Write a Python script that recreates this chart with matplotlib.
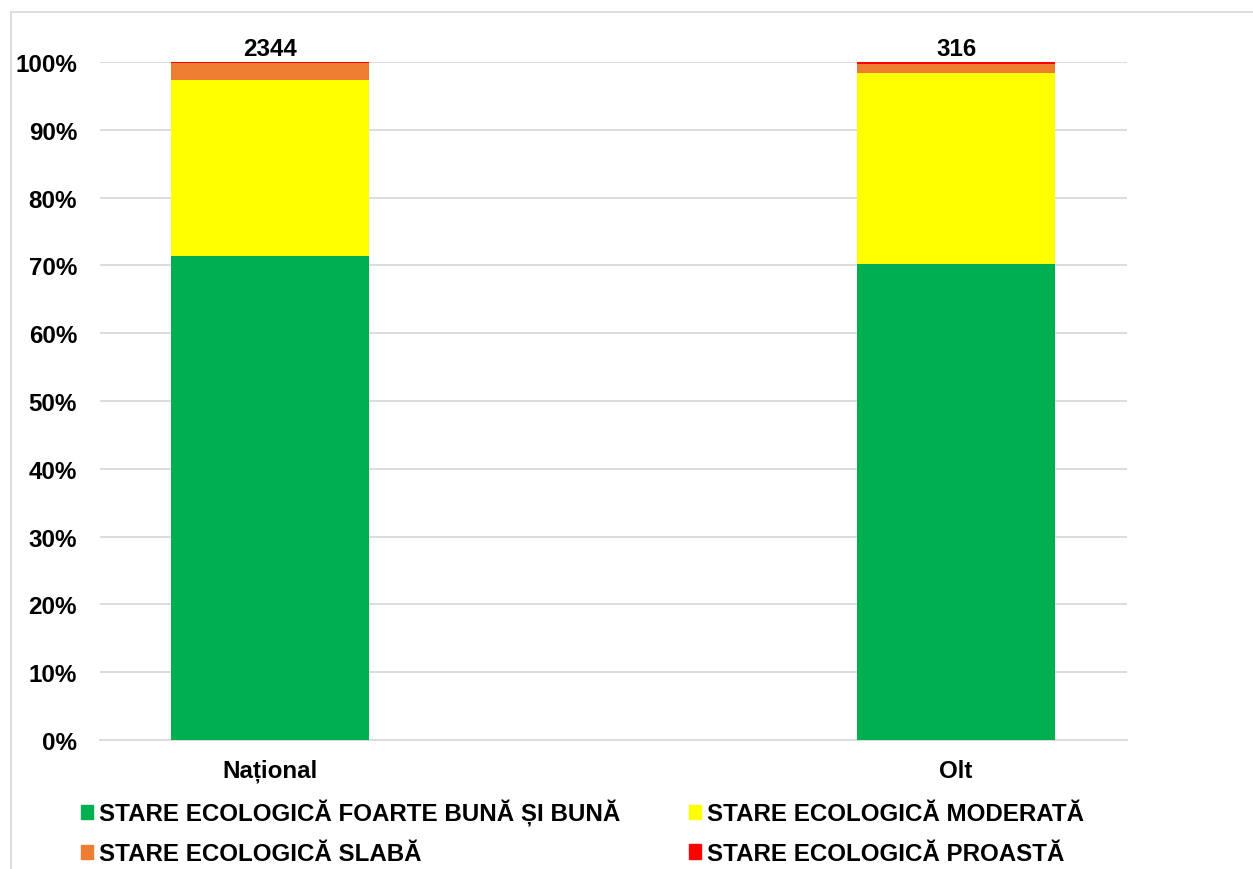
import matplotlib
matplotlib.use("Agg")
import matplotlib.pyplot as plt
from matplotlib.patches import Rectangle, Patch

plt.rcParams['font.family'] = ['Liberation Sans', 'DejaVu Sans']
plt.rcParams['font.weight'] = 'bold'

categories = ['Național', 'Olt']
totals = [2344, 316]
foarte_buna_buna = [1674, 222]
moderata = [609, 89]
slaba = [56, 4]
proasta = [5, 1]

series = [
    ('STARE ECOLOGICĂ FOARTE BUNĂ ȘI BUNĂ', foarte_buna_buna, '#00b050'),
    ('STARE ECOLOGICĂ MODERATĂ', moderata, '#ffff00'),
    ('STARE ECOLOGICĂ SLABĂ', slaba, '#ed7d31'),
    ('STARE ECOLOGICĂ PROASTĂ', proasta, '#ff0000'),
]

FS = 17.4

fig = plt.figure(figsize=(12.53, 8.7), dpi=100)
ax = fig.add_axes([100 / 1253, 1 - 741 / 870, 1027 / 1253, 678 / 870])

x = list(range(len(categories)))
bottom = [0.0] * len(categories)
for name, vals, color in series:
    pct = [v / t * 100 for v, t in zip(vals, totals)]
    ax.bar(x, pct, bottom=bottom, width=0.289, color=color, zorder=3, label=name)
    bottom = [bb + p for bb, p in zip(bottom, pct)]

for xi, t, top in zip(x, totals, bottom):
    ax.text(xi, top + 0.3, str(t), ha='center', va='bottom', fontsize=FS, fontweight='bold')

ax.set_xlim(-0.248, 1.249)
ax.set_ylim(0, 100)
ax.set_yticks(range(0, 101, 10))
ax.set_yticklabels([f'{v}%' for v in range(0, 101, 10)], fontsize=FS, fontweight='bold')
ax.set_xticks(x)
ax.set_xticklabels(categories, fontsize=FS, fontweight='bold')
ax.tick_params(axis='both', length=0)
ax.tick_params(axis='y', pad=16.5)
ax.tick_params(axis='x', pad=13.5)
ax.yaxis.grid(True, color='#d9d9d9', linewidth=1.3, zorder=0)
for s in ['left', 'right', 'top']:
    ax.spines[s].set_visible(False)
ax.spines['bottom'].set_color('#d9d9d9')
ax.spines['bottom'].set_linewidth(1.3)

# legend fills column-wise, so reorder to get green/yellow on row 1
leg_series = [series[0], series[2], series[1], series[3]]
leg_handles = [Patch(color=c) for n, v, c in leg_series]
leg = fig.legend(leg_handles, [n for n, v, c in leg_series], ncol=2, loc='upper left',
                 bbox_to_anchor=(81 / 1253, 1 - 800 / 870), frameon=False,
                 fontsize=FS, handlelength=0.5, handleheight=0.55, handletextpad=0.25,
                 columnspacing=2.85, labelspacing=0.68, borderaxespad=0, borderpad=0)
for t in leg.get_texts():
    t.set_fontweight('bold')

fig.patches.append(Rectangle((11 / 1253, -0.1), 1.2, 1 - 13 / 870 + 0.1,
                             transform=fig.transFigure, fill=False,
                             edgecolor='#d9d9d9', linewidth=1.3))

fig.savefig('out.png', dpi=100)
